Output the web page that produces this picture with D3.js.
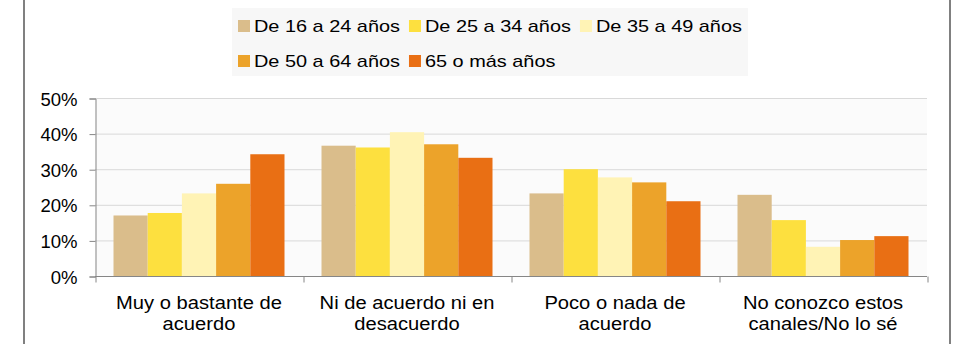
<!DOCTYPE html>
<html>
<head>
<meta charset="utf-8">
<script src="https://cdn.jsdelivr.net/npm/d3@7"></script>
<style>
  html, body { margin: 0; padding: 0; background: #ffffff; }
  svg { display: block; }
  text { font-family: "Liberation Sans", Arial, sans-serif; fill: #000; }
</style>
</head>
<body>
<svg id="chart" width="962" height="344"></svg>
<script>
// ---- data ----
const categories = [
  ["Muy o bastante de", "acuerdo"],
  ["Ni de acuerdo ni en", "desacuerdo"],
  ["Poco o nada de", "acuerdo"],
  ["No conozco estos", "canales/No lo sé"]
];
const seriesNames = ["De 16 a 24 años", "De 25 a 34 años", "De 35 a 49 años", "De 50 a 64 años", "65 o más años"];
const s16_24 = [17.0, 36.6, 23.2, 22.8];
const s25_34 = [17.7, 36.1, 30.0, 15.7];
const s35_49 = [23.2, 40.4, 27.7, 8.2];
const s50_64 = [25.9, 37.0, 26.3, 10.1];
const s65 = [34.2, 33.2, 21.0, 11.2];
const seriesValues = [s16_24, s25_34, s35_49, s50_64, s65];
const yTicks = [0, 10, 20, 30, 40, 50];
const yTickLabels = ["0%", "10%", "20%", "30%", "40%", "50%"];
const colors = ["#DABD8B", "#FDE03F", "#FFF3B5", "#ECA32A", "#E96F14"];

// ---- layout ----
const svg = d3.select("#chart");
const plot = { left: 95, right: 927, top: 98, bottom: 276 };
const catKeys = categories.map((c, i) => i);

// page border lines
svg.append("rect").attr("x", 23).attr("y", 0).attr("width", 2).attr("height", 344).attr("fill", "#808080");
svg.append("rect").attr("x", 949).attr("y", 0).attr("width", 2).attr("height", 344).attr("fill", "#808080");

const y = d3.scaleLinear().domain([0, 50]).range([plot.bottom, plot.top]);
const x0 = d3.scaleBand().domain(catKeys).range([plot.left, plot.right]).paddingInner(0).paddingOuter(0);
const x1 = d3.scaleBand().domain(d3.range(seriesNames.length))
  .range([18.5, x0.bandwidth() - 18.5]).padding(0);

// plot background
svg.append("rect").attr("x", plot.left).attr("y", plot.top)
  .attr("width", plot.right - plot.left).attr("height", plot.bottom - plot.top)
  .attr("fill", "#FBFBFB");

// gridlines
svg.append("g").selectAll("line").data(yTicks.filter(t => t > 0)).join("line")
  .attr("x1", plot.left).attr("x2", plot.right)
  .attr("y1", d => y(d) + 0.5).attr("y2", d => y(d) + 0.5)
  .attr("stroke", "#D9D9D9").attr("stroke-width", 1);

// bars
const rows = [];
seriesValues.forEach((vals, si) => vals.forEach((v, ci) => rows.push({ si, ci, v })));
svg.append("g").selectAll("rect").data(rows).join("rect")
  .attr("x", d => x0(d.ci) + x1(d.si))
  .attr("width", x1.bandwidth())
  .attr("y", d => y(d.v))
  .attr("height", d => y(0) - y(d.v))
  .attr("fill", d => colors[d.si]);

// y axis
const yAxis = d3.axisLeft(y).tickValues(yTicks).tickFormat((d, i) => yTickLabels[i]).tickSize(6).tickPadding(8);
const gy = svg.append("g").attr("transform", `translate(${plot.left + 0.5},0.5)`).call(yAxis);
gy.select(".domain").attr("stroke", "#868686");
gy.selectAll(".tick line").attr("stroke", "#868686");
gy.selectAll(".tick text").each(function () {
  const t = d3.select(this);
  const xx = +t.attr("x");
  t.attr("x", null).attr("dy", null)
   .attr("transform", `translate(${xx - 4},6.5) scale(1.03,1)`)
   .style("font-size", "18px").attr("fill", "#000");
});

// x axis
const xAxisScale = d3.scaleLinear().domain([0, categories.length]).range([plot.left, plot.right]);
const xAxis = d3.axisBottom(xAxisScale).tickValues(d3.range(categories.length + 1)).tickSize(6).tickFormat("");
const gx = svg.append("g").attr("transform", `translate(0.5,${plot.bottom + 0.5})`).call(xAxis);
gx.select(".domain").attr("stroke", "#868686").attr("d", `M${plot.left - 0.5},0H${plot.right - 0.5}`);
gx.selectAll(".tick line").attr("stroke", "#868686");

// x labels
const xl = svg.append("g");
categories.forEach((lines, ci) => {
  const cx = x0(ci) + x0.bandwidth() / 2;
  lines.forEach((ln, li) => {
    xl.append("text")
      .attr("transform", `translate(${cx},${308.5 + li * 21.5}) scale(1.09,1)`)
      .attr("text-anchor", "middle")
      .style("font-size", "18.5px")
      .text(ln);
  });
});

// legend
const leg = svg.append("g");
leg.append("rect").attr("x", 232).attr("y", 8).attr("width", 516).attr("height", 68).attr("fill", "#F7F7F7");
const legendRows = [[0, 1, 2], [3, 4]];
const lsx = 1.17;
legendRows.forEach((row, ri) => {
  let xx = 238;
  const base = 32 + ri * 35;
  row.forEach(si => {
    leg.append("rect").attr("x", xx).attr("y", base - 12).attr("width", 12).attr("height", 12).attr("fill", colors[si]);
    const t = leg.append("text")
      .attr("transform", `translate(${xx + 16},${base}) scale(${lsx},1)`)
      .style("font-size", "17px")
      .text(seriesNames[si]);
    const w = t.node().getComputedTextLength() * lsx;
    xx = xx + 16 + w + 9;
  });
});
</script>
</body>
</html>
